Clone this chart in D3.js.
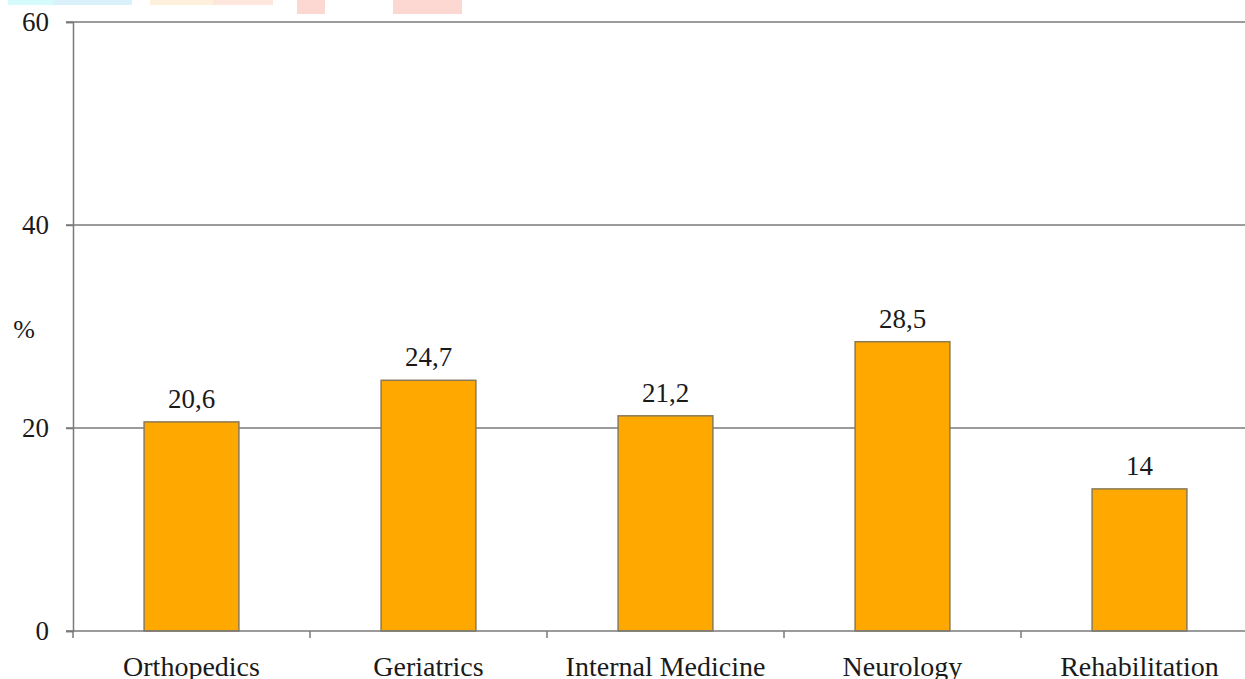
<!DOCTYPE html>
<html>
<head>
<meta charset="utf-8">
<script src="https://cdn.jsdelivr.net/npm/d3@7"></script>
<style>
  html, body { margin: 0; padding: 0; background: #fff; }
  svg { display: block; }
  svg text { font-family: "Liberation Serif", "DejaVu Serif", serif; fill: #1a1a1a; }
</style>
</head>
<body>
<svg id="chart" width="1245" height="679"></svg>
<script>
// Share of patients per department (%)
const categories = ["Orthopedics", "Geriatrics", "Internal Medicine", "Neurology", "Rehabilitation"];
const values = [20.6, 24.7, 21.2, 28.5, 14];
const valueLabels = ["20,6", "24,7", "21,2", "28,5", "14"];
const yTicks = [0, 20, 40, 60];
const yLabel = "%";

const svg = d3.select("#chart");

// faint banner strip along the top edge
const banner = [
  { x0: 8, x1: 53, h: 5, c: "#d6fbfd" },
  { x0: 53, x1: 132, h: 5, c: "#d9f1fb" },
  { x0: 150, x1: 213, h: 5, c: "#fff0dc" },
  { x0: 213, x1: 273, h: 5, c: "#fde7dc" },
  { x0: 297, x1: 325, h: 14, c: "#fdd8d3" },
  { x0: 393, x1: 462, h: 14, c: "#fdd8d3" }
];
svg.append("g").selectAll("rect").data(banner).join("rect")
  .attr("x", d => d.x0).attr("y", 0)
  .attr("width", d => d.x1 - d.x0).attr("height", d => d.h)
  .attr("fill", d => d.c);

const plotLeft = 73, plotRight = 1258, plotTop = 22, plotBottom = 631;

const x = d3.scaleBand()
  .domain(categories)
  .range([plotLeft, plotRight])
  .paddingInner(0.6)
  .paddingOuter(0.3);

const y = d3.scaleLinear().domain([0, 60]).range([plotBottom, plotTop]);

// horizontal gridlines
svg.append("g").selectAll("line").data(yTicks.filter(t => t > 0)).join("line")
  .attr("x1", plotLeft - 7).attr("x2", 1245)
  .attr("y1", d => y(d)).attr("y2", d => y(d))
  .attr("stroke", "#7a7a7a").attr("stroke-width", 1.5);

// bars
svg.append("g").selectAll("rect").data(values).join("rect")
  .attr("x", (d, i) => x(categories[i]))
  .attr("y", d => y(d))
  .attr("width", x.bandwidth())
  .attr("height", d => y(0) - y(d))
  .attr("fill", "#ffa800")
  .attr("stroke", "#8a7a55")
  .attr("stroke-width", 1.5);

// value labels
svg.append("g").selectAll("text").data(values).join("text")
  .attr("x", (d, i) => x(categories[i]) + x.bandwidth() / 2)
  .attr("y", d => y(d) - 14)
  .attr("text-anchor", "middle")
  .style("font-size", "27px")
  .text((d, i) => valueLabels[i]);

// y axis
const yAxis = svg.append("g").attr("transform", `translate(${plotLeft},0)`)
  .call(d3.axisLeft(y).tickValues(yTicks).tickSize(7).tickPadding(17).tickFormat(d3.format("d")));
yAxis.attr("font-family", null).attr("font-size", null);
yAxis.select(".domain").attr("stroke", "#7a7a7a").attr("stroke-width", 1.5);
yAxis.selectAll(".tick line").attr("stroke", "#7a7a7a").attr("stroke-width", 1.5);
yAxis.selectAll("text").style("font-size", "27px").attr("fill", "#1a1a1a");

// x axis with boundary ticks between categories
const xAxisG = svg.append("g").attr("transform", `translate(0,${plotBottom})`);
xAxisG.append("line")
  .attr("x1", plotLeft - 7).attr("x2", 1245)
  .attr("stroke", "#7a7a7a").attr("stroke-width", 1.5);
const bounds = categories.map(c => x(c) - x.step() * x.paddingInner() / 2);
bounds[0] = plotLeft;
xAxisG.selectAll("line.b").data(bounds).join("line").attr("class", "b")
  .attr("x1", d => d).attr("x2", d => d)
  .attr("y1", 0).attr("y2", 7)
  .attr("stroke", "#7a7a7a").attr("stroke-width", 1.5);
xAxisG.selectAll("text").data(categories).join("text")
  .attr("x", d => x(d) + x.bandwidth() / 2)
  .attr("y", 45)
  .attr("text-anchor", "middle")
  .style("font-size", "28px")
  .text(d => d);

// y axis unit
svg.append("text")
  .attr("x", 24).attr("y", 338)
  .attr("text-anchor", "middle")
  .style("font-size", "26px")
  .text(yLabel);
</script>
</body>
</html>
